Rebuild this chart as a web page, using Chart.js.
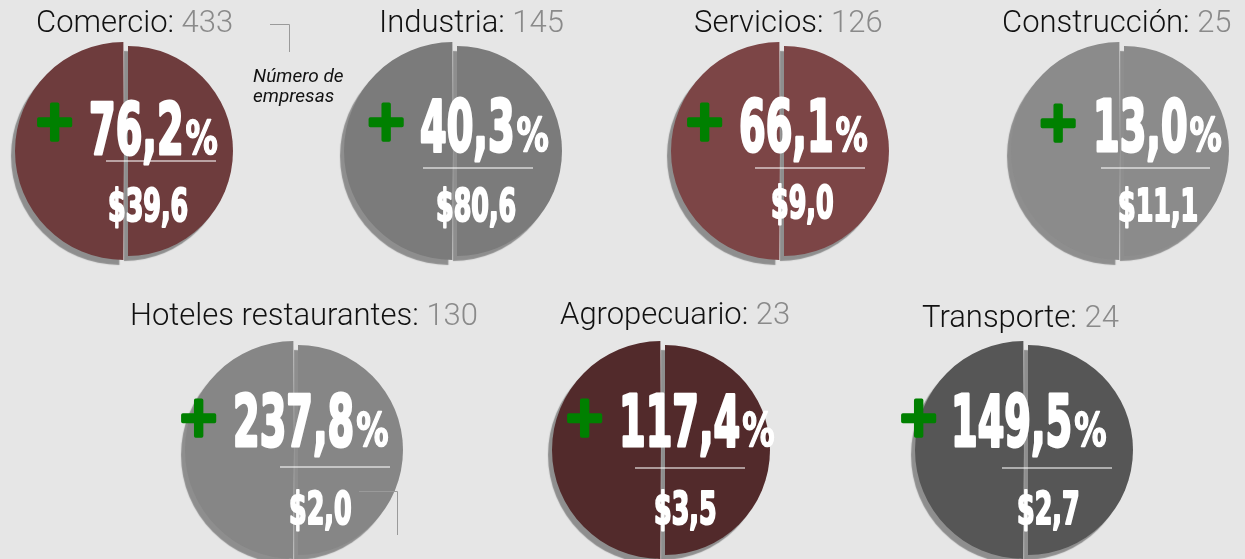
<!DOCTYPE html>
<html lang="es">
<head>
<meta charset="utf-8">
<title>Empresas por sector</title>
<script src="https://cdn.jsdelivr.net/npm/chart.js@4.4.0/dist/chart.umd.min.js"></script>
<style>
  html, body {
    margin: 0;
    padding: 0;
    width: 1245px;
    height: 559px;
    overflow: hidden;
    background: #e6e6e6;
    position: relative;
  }
  canvas { position: absolute; }
</style>
</head>
<body>
<script>
// Datos
const sectores = ['Comercio', 'Industria', 'Servicios', 'Construcción', 'Hoteles restaurantes', 'Agropecuario', 'Transporte'];
const empresas = [433, 145, 126, 25, 130, 23, 24];
const crecimiento = [76.2, 40.3, 66.1, 13.0, 237.8, 117.4, 149.5];
const montos = [39.6, 80.6, 9.0, 11.1, 2.0, 3.5, 2.7];
const mitades = [1, 1]; // las dos mitades de cada disco

// Estilo
const colores = ['#6e3c3d', '#7b7b7b', '#7c4546', '#8b8b8b', '#868686', '#522a2b', '#565656'];

// Posiciones en la página (centro del disco y rótulos)
const disenio = [
    { cx: 128,  cy: 151, title: [36, 32],   plus: [54.5, 121.5],  pct: [88, 155],  line: [106, 216, 161],  money: [107, 222] },
    { cx: 457,  cy: 151, title: [379, 32],  plus: [386, 121.5],   pct: [419, 152], line: [423, 533, 168],  money: [435, 222] },
    { cx: 784,  cy: 151, title: [694, 32],  plus: [704.5, 122],   pct: [738, 152], line: [755, 865, 168],  money: [770, 219] },
    { cx: 1124, cy: 151, title: [1002, 32], plus: [1058, 122.5],  pct: [1092, 152], line: [1101, 1210, 168], money: [1117, 222] },
    { cx: 298,  cy: 450, title: [130, 325], plus: [198.5, 417.5], pct: [232, 447], line: [280, 390, 467],  money: [288, 525] },
    { cx: 665,  cy: 450, title: [560, 324], plus: [584.5, 418],   pct: [618, 447], line: [635, 745, 468],  money: [653, 525] },
    { cx: 1028, cy: 450, title: [922, 327], plus: [918.5, 417.5], pct: [950, 447], line: [1002, 1112, 468], money: [1016, 525] }
];

const W = 460, H = 300;
const FONT_TITLE = "'Roboto', 'Liberation Sans', sans-serif";
const FONT_NUM = "'DejaVu Sans Condensed', 'DejaVu Sans', sans-serif";

function formato(v) {
    return v.toFixed(1).replace('.', ',');
}

// Sombra gris detrás de cada mitad
const sombra = {
    id: 'sombra',
    beforeDatasetsDraw(chart) {
        const ctx = chart.ctx;
        ctx.save();
        ctx.shadowColor = '#8e8e8e';
        ctx.shadowOffsetX = -4;
        ctx.shadowOffsetY = 5;
        ctx.shadowBlur = 1;
    },
    afterDatasetsDraw(chart) {
        chart.ctx.restore();
    }
};

function textoAngosto(ctx, txt, x, y, escala) {
    ctx.save();
    ctx.translate(x, y);
    ctx.scale(escala, 1);
    ctx.fillText(txt, 0, 0);
    ctx.strokeText(txt, 0, 0);
    const w = ctx.measureText(txt).width * escala;
    ctx.restore();
    return w;
}

function rotulos(i) {
    const d = disenio[i];
    return {
        id: 'rotulos',
        afterDatasetsDraw(chart) {
            const ctx = chart.ctx;
            ctx.save();
            ctx.translate(-(d.cx - W / 2), -(d.cy - H / 2)); // coordenadas de página
            ctx.textAlign = 'left';
            ctx.textBaseline = 'alphabetic';
            ctx.lineJoin = 'round';

            // Título: sector + número de empresas
            ctx.font = `300 31px ${FONT_TITLE}`;
            const nombre = sectores[i] + ': ';
            ctx.fillStyle = '#111';
            ctx.fillText(nombre, d.title[0], d.title[1]);
            ctx.fillStyle = '#8a8a8a';
            ctx.fillText(String(empresas[i]), d.title[0] + ctx.measureText(nombre).width, d.title[1]);

            // Signo +
            ctx.font = `bold 100px ${FONT_NUM}`;
            let m = ctx.measureText('+');
            const size = 32 * 100 / (m.actualBoundingBoxRight + m.actualBoundingBoxLeft);
            ctx.font = `bold ${size}px ${FONT_NUM}`;
            m = ctx.measureText('+');
            ctx.fillStyle = '#008000';
            ctx.strokeStyle = '#008000';
            ctx.lineWidth = 3.5;
            const px = d.plus[0] - (m.actualBoundingBoxRight - m.actualBoundingBoxLeft) / 2;
            const py = d.plus[1] + (m.actualBoundingBoxAscent - m.actualBoundingBoxDescent) / 2;
            ctx.fillText('+', px, py);
            ctx.strokeText('+', px, py);

            // Porcentaje
            ctx.fillStyle = '#fff';
            ctx.strokeStyle = '#fff';
            ctx.lineWidth = 3;
            ctx.font = `bold 71px ${FONT_NUM}`;
            const wn = textoAngosto(ctx, formato(crecimiento[i]), d.pct[0] + 1, d.pct[1] - 1, 0.6);
            ctx.lineWidth = 1.5;
            ctx.font = `bold 46px ${FONT_NUM}`;
            textoAngosto(ctx, '%', d.pct[0] + wn + 3, d.pct[1] - 1, 0.78);

            // Línea divisoria
            ctx.strokeStyle = 'rgba(255,255,255,0.7)';
            ctx.lineWidth = 1.5;
            ctx.beginPath();
            ctx.moveTo(d.line[0], d.line[2]);
            ctx.lineTo(d.line[1], d.line[2]);
            ctx.stroke();

            // Monto
            ctx.strokeStyle = '#fff';
            ctx.lineWidth = 2.2;
            ctx.font = `bold 44px ${FONT_NUM}`;
            textoAngosto(ctx, '$' + formato(montos[i]), d.money[0] + 1, d.money[1] - 1, 0.64);

            // Notas con corchete
            ctx.strokeStyle = '#9a9a9a';
            ctx.lineWidth = 1;
            if (i === 0) {
                ctx.beginPath();
                ctx.moveTo(270, 24.5);
                ctx.lineTo(289.5, 24.5);
                ctx.lineTo(289.5, 52);
                ctx.stroke();
                ctx.fillStyle = '#111';
                ctx.font = `italic 19px ${FONT_TITLE}`;
                ctx.fillText('Número de', 253, 82);
                ctx.fillText('empresas', 253, 102);
            }
            if (i === 4) {
                ctx.beginPath();
                ctx.moveTo(359, 491.5);
                ctx.lineTo(397.5, 491.5);
                ctx.lineTo(397.5, 535);
                ctx.stroke();
            }
            ctx.restore();
        }
    };
}

sectores.forEach((sector, i) => {
    const d = disenio[i];
    const canvas = document.createElement('canvas');
    canvas.width = W;
    canvas.height = H;
    canvas.style.width = W + 'px';
    canvas.style.height = H + 'px';
    canvas.style.left = (d.cx - W / 2) + 'px';
    canvas.style.top = (d.cy - H / 2) + 'px';
    document.body.appendChild(canvas);

    new Chart(canvas, {
        type: 'pie',
        data: {
            labels: ['izquierda', 'derecha'],
            datasets: [{
                data: mitades,
                backgroundColor: colores[i],
                borderWidth: 0,
                offset: [16, 0]
            }]
        },
        options: {
            responsive: false,
            animation: false,
            events: [],
            radius: 105,
            rotation: 180,
            layout: { padding: 0 },
            plugins: {
                legend: { display: false },
                tooltip: { enabled: false },
                title: { display: false }
            }
        },
        plugins: [sombra, rotulos(i)]
    });
});
</script>
</body>
</html>
